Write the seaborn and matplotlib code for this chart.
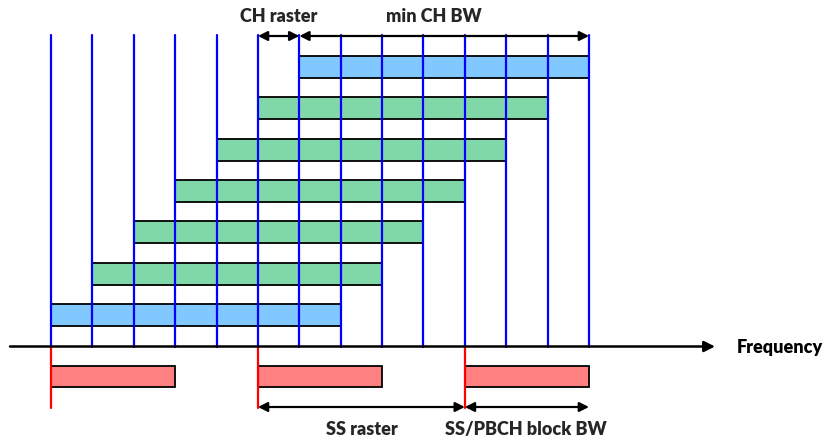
import matplotlib
matplotlib.use("Agg")
import matplotlib.pyplot as plt
import seaborn as sns
import pandas as pd

# ---- data (in channel-raster units) ----
raster_positions = list(range(14))                 # vertical channel raster lines
ch_starts = [6, 5, 4, 3, 2, 1, 0]                  # carrier start, top row to bottom row
ch_width = 7                                       # min CH BW in raster units
ch_kinds = ["edge", "mid", "mid", "mid", "mid", "mid", "edge"]
ss_starts = [0, 5, 10]                             # SS/PBCH block starts (SS raster)
ss_width = 3                                       # SS/PBCH block BW
labels_top = ["CH raster", "min CH BW"]
labels_bottom = ["SS raster", "SS/PBCH block BW"]
axis_label = "Frequency"

sns.set_theme(style="white")
plt.rcParams['font.family'] = ['Lato', 'DejaVu Sans']

W, H = 828, 439
fig = plt.figure(figsize=(W / 100, H / 100), dpi=100)
ax = fig.add_axes([0, 0, 1, 1])
unit = 41.385
x0 = 51
ax.set_xlim(-x0 / unit, (W - x0) / unit)
ax.set_ylim(H, 0)
ax.axis("off")

row_top = 68
row_step = 41.3
bar_h = 22
axis_y = 347.5
line_top = 36
fw = "heavy"

# bars
df = pd.DataFrame({"start": ch_starts, "kind": ch_kinds})
df["y"] = [row_top + i * row_step for i in range(len(df))]
colors = {"edge": "#80C8FF", "mid": "#80D8A8"}
ax.barh(df["y"], [ch_width] * len(df), left=df["start"], height=bar_h,
        color=[colors[k] for k in df["kind"]], edgecolor="black", linewidth=1.3, zorder=2)

# raster lines on top of bars
for r in raster_positions:
    ax.plot([r, r], [line_top, axis_y], color="#0000FF", lw=1.6, zorder=3)

# SS blocks
ss_y = 377.5
ax.barh([ss_y] * len(ss_starts), [ss_width] * len(ss_starts), left=ss_starts, height=21,
        color="#FF8080", edgecolor="black", linewidth=1.3, zorder=2)
for s in ss_starts:
    ax.plot([s, s], [axis_y, 409], color="#FF0000", lw=1.6, zorder=3)

# frequency axis
xl = ax.get_xlim()
ax.annotate("", xy=(xl[0] + 715 / unit, axis_y), xytext=(xl[0] + 10 / unit, axis_y),
            arrowprops=dict(arrowstyle="-|>", color="black", lw=1.8, mutation_scale=16,
                            shrinkA=0, shrinkB=0), zorder=4)
ax.text(xl[0] + 737 / unit, axis_y, axis_label, ha="left", va="center",
        fontsize=13, fontweight=fw, color="black")

arrow_kw = dict(arrowstyle="<|-|>", color="black", lw=1.6, mutation_scale=14,
                shrinkA=0, shrinkB=0)
# top arrows
ya = 37
ax.annotate("", xy=(5, ya), xytext=(6, ya), arrowprops=arrow_kw, zorder=4)
ax.annotate("", xy=(6, ya), xytext=(13, ya), arrowprops=arrow_kw, zorder=4)
ax.text(xl[0] + 279 / unit, 16, labels_top[0], ha="center", va="center",
        fontsize=13, fontweight=fw)
ax.text(xl[0] + 433.5 / unit, 16, labels_top[1], ha="center", va="center",
        fontsize=13, fontweight=fw)

# bottom arrows
yb = 408
ax.annotate("", xy=(5, yb), xytext=(10, yb), arrowprops=arrow_kw, zorder=4)
ax.annotate("", xy=(10, yb), xytext=(13, yb), arrowprops=arrow_kw, zorder=4)
ax.text(xl[0] + 362 / unit, 430, labels_bottom[0], ha="center", va="center",
        fontsize=13, fontweight=fw)
ax.text(xl[0] + 526 / unit, 430, labels_bottom[1], ha="center", va="center",
        fontsize=13, fontweight=fw)

fig.savefig("out.png", dpi=100)
